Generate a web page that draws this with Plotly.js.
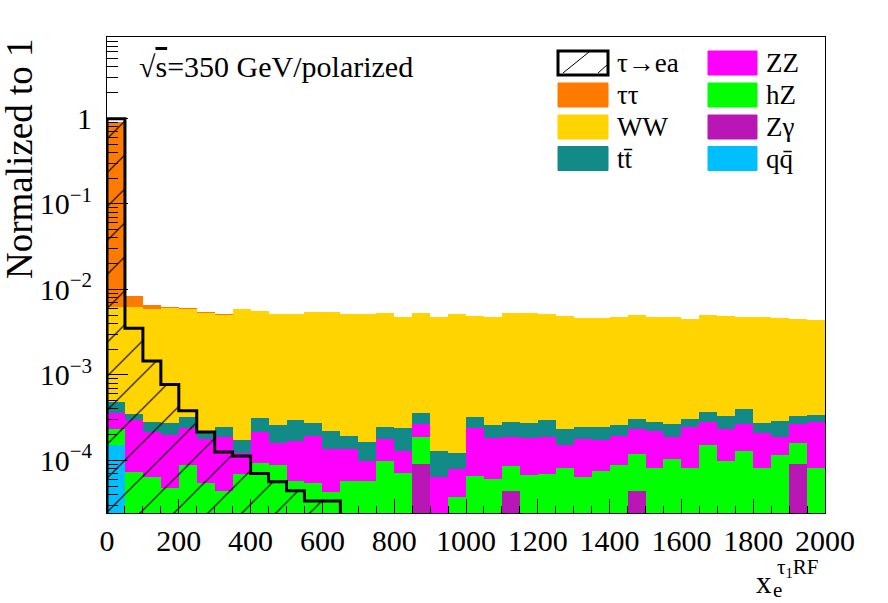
<!DOCTYPE html>
<html>
<head>
<meta charset="utf-8">
<script src="https://cdn.plot.ly/plotly-3.0.1.min.js"></script>
<style>
  html, body { margin: 0; padding: 0; background: #fff; }
  #plot { width: 888px; height: 603px; }
</style>
</head>
<body>
<div id="plot"></div>
<script>
// histogram binning: 40 bins of 50 from 0 to 2000
const xLow = 0;
const binWidth = 50;
const nBins = 40;

// stacked backgrounds, normalized to 1 (bottom to top)
const qqbar = [1.51e-4, 0, 0, 0, 0, 0, 0, 0, 0, 0, 0, 0, 0, 0, 0, 0, 0, 0, 0, 0,
    0, 0, 0, 0, 0, 0, 0, 0, 0, 0, 0, 0, 0, 0, 0, 0, 0, 0, 0, 0];
const zgamma = [0, 0, 0, 0, 0, 0, 0, 0, 0, 0, 0, 0, 0, 0, 0, 0, 0, 9.0e-5, 0, 0,
    0, 0, 4.4e-5, 0, 0, 0, 0, 0, 0, 4.4e-5, 0, 0, 0, 0, 0, 0, 0, 0, 9.0e-5, 0];
const hz = [7.9e-5, 7.4e-5, 6.4e-5, 4.7e-5, 8.8e-5, 5.4e-5, 4.4e-5, 6.9e-5, 9.4e-5, 8.8e-5,
    5.8e-5, 5.4e-5, 4.3e-5, 5.8e-5, 5.8e-5, 9.8e-5, 7.2e-5, 9.9e-5, 0, 3.75e-5,
    6.6e-5, 6.0e-5, 4.3e-5, 6.7e-5, 7.0e-5, 8.2e-5, 6.3e-5, 7.6e-5, 8.8e-5, 7.6e-5,
    8.2e-5, 1.04e-4, 8.2e-5, 1.50e-4, 9.8e-5, 1.29e-4, 8.2e-5, 1.14e-4, 6.8e-5, 8.2e-5];
const zz = [1.31e-4, 2.22e-4, 1.52e-4, 1.51e-4, 1.49e-4, 1.22e-4, 1.42e-4, 5.4e-5, 1.22e-4, 7.3e-5,
    1.10e-4, 1.38e-4, 9.1e-5, 7.6e-5, 4.1e-5, 7.8e-5, 5.8e-5, 7.4e-5, 6.3e-5, 4.25e-5,
    1.71e-4, 1.24e-4, 1.02e-4, 1.14e-4, 1.16e-4, 6.9e-5, 1.13e-4, 9.5e-5, 1.06e-4, 1.12e-4,
    1.38e-4, 8.2e-5, 1.63e-4, 1.33e-4, 1.32e-4, 1.34e-4, 1.28e-4, 7.2e-5, 1.05e-4, 2.01e-4];
const ttbar = [1.24e-4, 5.2e-5, 6.7e-5, 7.3e-5, 8.7e-5, 3.4e-5, 5.75e-5, 5.0e-5, 9.3e-5, 9.8e-5,
    1.28e-4, 8.1e-5, 8.8e-5, 5.8e-5, 6.6e-5, 7.1e-5, 1.06e-4, 9.1e-5, 6.7e-5, 4.3e-5,
    8.7e-5, 7.5e-5, 9.2e-5, 9.5e-5, 1.10e-4, 8.4e-5, 6.9e-5, 7.4e-5, 6.2e-5, 6.9e-5,
    6.3e-5, 7.7e-5, 6.2e-5, 8.1e-5, 9.7e-5, 1.35e-4, 6.1e-5, 1.02e-4, 6.7e-5, 5.9e-5];
const ww = [5.79e-3, 5.92e-3, 5.61e-3, 5.73e-3, 5.51e-3, 5.03e-3, 4.77e-3, 5.66e-3, 5.31e-3, 4.88e-3,
    4.84e-3, 5.21e-3, 5.17e-3, 4.95e-3, 4.98e-3, 4.99e-3, 4.55e-3, 4.89e-3, 4.66e-3, 4.98e-3,
    4.55e-3, 4.53e-3, 4.96e-3, 4.96e-3, 4.80e-3, 4.69e-3, 4.34e-3, 4.42e-3, 4.53e-3, 4.66e-3,
    4.42e-3, 4.53e-3, 4.18e-3, 4.60e-3, 4.54e-3, 4.34e-3, 4.47e-3, 4.37e-3, 4.12e-3, 4.04e-3];
const tautau = [0.904, 2.08e-3, 6.7e-4, 2.7e-4, 1.7e-4, 2.4e-4, 1.3e-4, 0, 0, 0,
    0, 0, 0, 0, 0, 0, 0, 0, 0, 0, 0, 0, 0, 0, 0, 0, 0, 0, 0, 0,
    0, 0, 0, 0, 0, 0, 0, 0, 0, 0];

// signal tau -> e a
const signal = [0.99, 3.5e-3, 1.45e-3, 7.7e-4, 3.8e-4, 2.14e-4, 1.25e-4, 1.12e-4, 7.0e-5, 5.6e-5,
    4.4e-5, 3.35e-5, 3.35e-5, 0, 0, 0, 0, 0, 0, 0,
    0, 0, 0, 0, 0, 0, 0, 0, 0, 0, 0, 0, 0, 0, 0, 0, 0, 0, 0, 0];

// y tick labels
const yTickVals = [1, 0.1, 0.01, 0.001, 0.0001];
const yTickText = ['1', '10<sup>\u22121</sup>', '10<sup>\u22122</sup>', '10<sup>\u22123</sup>', '10<sup>\u22124</sup>'];

// colours
const colors = {
    signal: '#000000',
    tautau: '#ff7a00',
    ww: '#ffd400',
    ttbar: '#128a88',
    zz: '#ff00ff',
    hz: '#00ff00',
    zgamma: '#b817b5',
    qqbar: '#00bfff'
};

// frame geometry in pixels
const W = 888, H = 603;
const L = 107, R = 825, T = 37, B = 513;
const px = (x) => (x - L) / (R - L);
const py = (y) => (B - y) / (B - T);

const centers = [];
const edges = [];
for (let i = 0; i < nBins; i++) centers.push(xLow + (i + 0.5) * binWidth);
for (let i = 0; i <= nBins; i++) edges.push(xLow + i * binWidth);

const yRange = [-4.616, 0.951];
const font = '"Liberation Serif", "Times New Roman", serif';

var data = [];
const stack = [
    ['q\u0304q', qqbar, colors.qqbar],
    ['Z\u03b3', zgamma, colors.zgamma],
    ['hZ', hz, colors.hz],
    ['ZZ', zz, colors.zz],
    ['tt\u0304', ttbar, colors.ttbar],
    ['WW', ww, colors.ww],
    ['\u03c4\u03c4', tautau, colors.tautau]
];
stack.forEach((item) => {
    data.push({
        type: 'bar',
        x: centers,
        y: item[1],
        width: binWidth,
        name: item[0],
        marker: { color: item[2], line: { width: 0 } },
        xaxis: 'x',
        yaxis: 'y',
        showlegend: false
    });
});

// signal: hatch fill + thick outline, on an overlaid axis pair so it sits on top of the stack
data.push({
    type: 'bar',
    x: centers,
    y: signal,
    width: binWidth,
    xaxis: 'x2',
    yaxis: 'y2',
    marker: {
        color: 'rgba(0,0,0,0)',
        line: { width: 0 },
        pattern: { shape: '/', size: 24, solidity: 0.05, fgcolor: 'black', fgopacity: 1, fillmode: 'overlay' }
    },
    showlegend: false
});

// step outline; empty bins are drawn at a floor far below the frame (clipped)
const floor = 1e-9;
const stepX = [edges[0]];
const stepY = [floor];
signal.forEach((v, i) => {
    stepX.push(edges[i]);
    stepY.push(v > 0 ? v : floor);
});
stepX.push(edges[nBins]);
stepY.push(signal[nBins - 1] > 0 ? signal[nBins - 1] : floor);
data.push({
    type: 'scatter',
    mode: 'lines',
    x: stepX,
    y: stepY,
    line: { shape: 'hv', color: 'black', width: 3 },
    xaxis: 'x2',
    yaxis: 'y2',
    showlegend: false
});

// minor ticks on the log axis
const yMinor = [];
for (let e = -5; e <= 0; e++) {
    for (let m = 2; m <= 9; m++) yMinor.push(m * Math.pow(10, e));
}

// hand-drawn legend (two columns, four rows)
const legendCols = [
    [['\u03c4\u2192ea', 'signal'], ['\u03c4\u03c4', 'tautau'], ['WW', 'ww'], ['tt\u0304', 'ttbar']],
    [['ZZ', 'zz'], ['hZ', 'hz'], ['Z\u03b3', 'zgamma'], ['qq\u0304', 'qqbar']]
];
const legendBoxX = [[558, 608], [708, 757]];
const legendTextX = [615, 764];
const legendRowY = [63, 95, 127, 158.5];

var shapes = [];
var annotations = [];
legendCols.forEach((col, c) => {
    col.forEach((entry, r) => {
        const y0 = legendRowY[r] - 12, y1 = legendRowY[r] + 12;
        const isSignal = entry[1] == 'signal';
        shapes.push({
            type: 'rect', xref: 'paper', yref: 'paper',
            x0: px(legendBoxX[c][0]), x1: px(legendBoxX[c][1]),
            y0: py(y1), y1: py(y0),
            fillcolor: isSignal ? 'white' : colors[entry[1]],
            line: { color: isSignal ? 'black' : colors[entry[1]], width: isSignal ? 3 : 1 }
        });
        if (isSignal) {
            shapes.push({
                type: 'line', xref: 'paper', yref: 'paper',
                x0: px(563), y0: py(y1 - 2), x1: px(589), y1: py(y0 + 1),
                line: { color: 'black', width: 1 }
            });
            shapes.push({
                type: 'line', xref: 'paper', yref: 'paper',
                x0: px(598), y0: py(y1 - 2), x1: px(607), y1: py(y1 - 10),
                line: { color: 'black', width: 1 }
            });
        }
        annotations.push({
            xref: 'paper', yref: 'paper',
            x: px(legendTextX[c]), y: py(legendRowY[r]),
            xanchor: 'left', yanchor: 'middle',
            text: entry[0], showarrow: false,
            font: { family: font, size: 27, color: 'black' }
        });
    });
});

// sqrt(s) label
annotations.push({
    xref: 'paper', yref: 'paper', x: px(137), y: py(66),
    xanchor: 'left', yanchor: 'middle', showarrow: false,
    text: '\u221a<span style="text-decoration:overline">s</span>=350 GeV/polarized',
    font: { family: font, size: 30, color: 'black' }
});

// y title, top aligned like ROOT
annotations.push({
    xref: 'paper', yref: 'paper', x: px(19), y: 1.0,
    xanchor: 'center', yanchor: 'top', textangle: -90, showarrow: false,
    text: 'Normalized to 1',
    font: { family: font, size: 37, color: 'black' }
});

// x title pieces: x_e^{tau_1 RF}
const xTitle = [
    ['x', 755, 582, 31],
    ['e', 772, 590, 21],
    ['\u03c4<sub>1</sub>RF', 776, 568, 21]
];
xTitle.forEach((p) => {
    annotations.push({
        xref: 'paper', yref: 'paper', x: px(p[1]), y: py(p[2]),
        xanchor: 'left', yanchor: 'middle', showarrow: false,
        text: p[0], borderpad: 0,
        font: { family: font, size: p[3], color: 'black' }
    });
});

const layout = {
    width: W,
    height: H,
    autosize: false,
    margin: { l: L, r: W - R, t: T, b: H - B, pad: 0 },
    paper_bgcolor: 'white',
    plot_bgcolor: 'white',
    barmode: 'stack',
    bargap: 0,
    showlegend: false,
    hovermode: false,
    font: { family: font, color: 'black' },
    xaxis: {
        range: [0, 2000],
        tickmode: 'linear', tick0: 0, dtick: 200,
        ticks: 'inside', ticklen: 14, tickwidth: 1, tickcolor: 'black',
        minor: { dtick: 50, ticks: 'inside', ticklen: 7, tickwidth: 1, tickcolor: 'black' },
        showline: true, linecolor: 'black', linewidth: 1, mirror: true,
        showgrid: false, zeroline: false,
        tickfont: { family: font, size: 30, color: 'black' },
        ticklabelstandoff: 1
    },
    yaxis: {
        type: 'log',
        range: yRange,
        tickmode: 'array', tickvals: yTickVals, ticktext: yTickText,
        ticks: 'inside', ticklen: 21, tickwidth: 1, tickcolor: 'black',
        minor: { tickmode: 'array', tickvals: yMinor, ticks: 'inside', ticklen: 11, tickwidth: 1, tickcolor: 'black' },
        showline: true, linecolor: 'black', linewidth: 1, mirror: true,
        showgrid: false, zeroline: false,
        tickfont: { family: font, size: 30, color: 'black' },
        ticklabelstandoff: 8
    },
    xaxis2: { overlaying: 'x', anchor: 'y2', range: [0, 2000], visible: false },
    yaxis2: { overlaying: 'y', anchor: 'x2', type: 'log', range: yRange, visible: false },
    shapes: shapes,
    annotations: annotations
};

Plotly.newPlot('plot', data, layout, { staticPlot: true, displayModeBar: false });
</script>
</body>
</html>
